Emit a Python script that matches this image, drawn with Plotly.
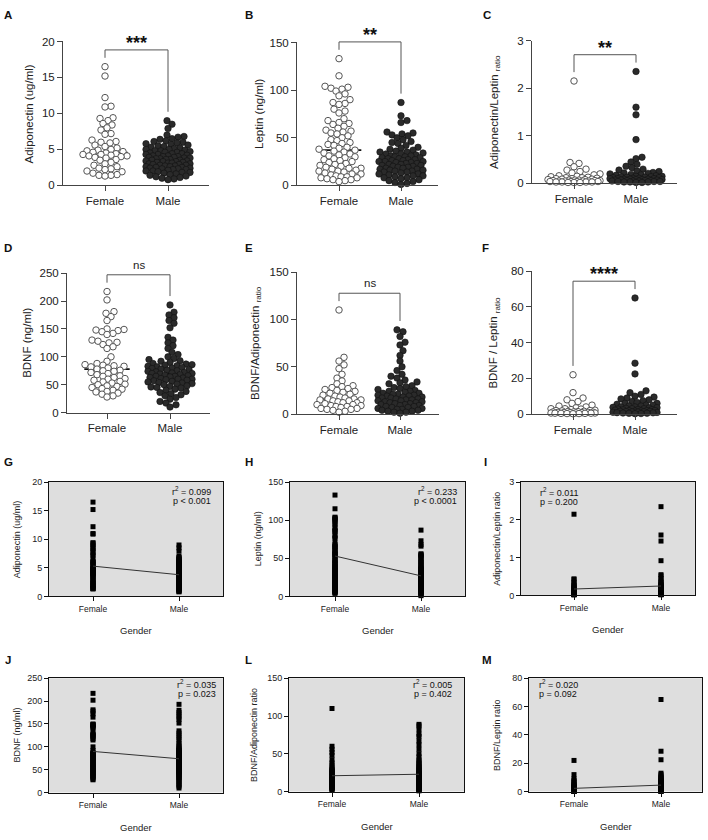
import math
import statistics
import plotly.graph_objects as go

W, H = 708, 840
FONT = "Arial, Liberation Sans, sans-serif"

groups = ["Female", "Male"]

# values (approximate)
adipo_f = [16.5, 15.2, 12.2, 11.0, 10.9, 9.4, 9.3, 9.0, 8.6, 8.4, 8.0, 7.7, 7.2, 7.1, 6.3, 6.1,
           6.0, 5.9, 5.6, 5.4, 5.2, 5.0, 4.9, 4.8, 4.7, 4.6, 4.5, 4.4, 4.3, 4.3, 4.2, 4.1, 4.1,
           4.0, 3.9, 3.8, 3.6, 3.5, 3.2, 3.0, 2.8, 2.6, 2.4, 2.3, 2.2, 2.0, 1.9, 1.7, 1.5, 1.4,
           1.4, 1.3]
adipo_m = [9.0, 8.5, 7.9, 7.0, 6.8, 6.7, 6.5, 6.4, 6.2, 6.1, 6.0, 5.9, 5.8, 5.7, 5.6, 5.5, 5.4,
           5.3, 5.2, 5.1, 5.0, 5.0, 4.9, 4.8, 4.8, 4.7, 4.6, 4.6, 4.5, 4.4, 4.4, 4.3, 4.3, 4.2,
           4.1, 4.1, 4.0, 4.0, 3.9, 3.9, 3.8, 3.8, 3.7, 3.7, 3.6, 3.6, 3.5, 3.5, 3.4, 3.4, 3.3,
           3.3, 3.2, 3.2, 3.1, 3.1, 3.0, 3.0, 2.9, 2.9, 2.8, 2.8, 2.7, 2.7, 2.6, 2.6, 2.5, 2.5,
           2.4, 2.4, 2.3, 2.3, 2.2, 2.2, 2.1, 2.0, 2.0, 1.9, 1.8, 1.8, 1.7, 1.6, 1.5, 1.4, 1.3,
           1.2, 1.1, 1.0, 0.9, 0.8]

leptin_f = [133, 115, 104, 103, 102, 101, 99, 96, 94, 90, 87, 86, 85, 80, 78, 76, 70, 68, 66,
            65, 64, 62, 60, 58, 57, 56, 55, 54, 52, 50, 48, 47, 45, 44, 43, 42, 40, 39, 38, 37,
            36, 35, 34, 33, 32, 31, 30, 29, 28, 27, 26, 25, 24, 23, 22, 21, 20, 19, 18, 18, 17,
            16, 15, 15, 14, 13, 12, 12, 11, 10, 9, 9, 8, 8, 7, 6, 6, 5, 4]
leptin_m = [87, 73, 68, 66, 56, 55, 54, 53, 52, 50, 48, 46, 45, 44, 42, 40, 39, 38, 37, 36, 35,
            35, 34, 33, 33, 32, 31, 31, 30, 30, 29, 29, 28, 28, 27, 27, 26, 26, 25, 25, 25, 24,
            24, 23, 23, 22, 22, 21, 21, 20, 20, 19, 19, 18, 18, 17, 17, 16, 16, 15, 15, 14, 14,
            13, 12, 12, 11, 10, 10, 9, 8, 8, 7, 6, 5, 4, 3, 2, 1]

al_ratio_f = [2.15, 0.44, 0.42, 0.35, 0.30, 0.28, 0.25, 0.22, 0.20, 0.18, 0.16, 0.15, 0.14, 0.13,
              0.12, 0.12, 0.11, 0.10, 0.10, 0.09, 0.09, 0.08, 0.08, 0.07, 0.07, 0.07, 0.06, 0.06,
              0.06, 0.05, 0.05, 0.05, 0.05, 0.04, 0.04, 0.04, 0.04, 0.03, 0.03, 0.03, 0.03, 0.02,
              0.02, 0.02]
al_ratio_m = [2.35, 1.60, 1.44, 0.92, 0.55, 0.52, 0.45, 0.40, 0.36, 0.33, 0.30, 0.28, 0.26, 0.25,
              0.23, 0.22, 0.21, 0.20, 0.19, 0.18, 0.17, 0.16, 0.15, 0.15, 0.14, 0.14, 0.13, 0.13,
              0.12, 0.12, 0.11, 0.11, 0.10, 0.10, 0.10, 0.09, 0.09, 0.09, 0.08, 0.08, 0.08, 0.07,
              0.07, 0.07, 0.06, 0.06, 0.06, 0.05, 0.05, 0.05, 0.04, 0.04, 0.04, 0.03, 0.03, 0.03,
              0.02, 0.02]

bdnf_f = [217, 202, 181, 178, 172, 165, 150, 149, 148, 147, 145, 142, 140, 130, 128, 126, 125,
          122, 118, 115, 100, 92, 88, 86, 85, 84, 83, 82, 80, 78, 76, 75, 74, 72, 70, 68, 66, 65,
          63, 61, 60, 58, 56, 55, 53, 51, 50, 48, 47, 45, 43, 42, 40, 38, 37, 35, 33, 30, 28]
bdnf_m = [193, 180, 175, 170, 165, 160, 152, 135, 130, 125, 120, 115, 108, 104, 100, 97, 95, 93,
          92, 90, 88, 87, 86, 85, 84, 83, 82, 81, 80, 79, 78, 77, 76, 75, 74, 73, 72, 71, 70, 70,
          69, 68, 67, 66, 65, 65, 64, 63, 62, 61, 60, 60, 59, 58, 57, 56, 55, 54, 53, 52, 51, 50,
          48, 47, 46, 45, 44, 42, 40, 38, 36, 34, 32, 30, 27, 24, 20, 17, 14, 10]

ba_ratio_f = [110, 60, 56, 52, 48, 42, 38, 35, 32, 30, 29, 28, 27, 26, 25, 24, 23, 22, 21, 20, 19,
              18, 17, 16, 16, 15, 15, 14, 14, 13, 12, 12, 11, 10, 10, 9, 9, 8, 8, 7, 6, 6, 5, 5,
              4, 3, 2]
ba_ratio_m = [89, 87, 82, 76, 73, 67, 62, 56, 50, 46, 42, 40, 38, 36, 34, 33, 32, 30, 29, 28, 27,
              26, 25, 24, 24, 23, 22, 22, 21, 21, 20, 20, 19, 19, 18, 18, 17, 17, 16, 16, 15, 15,
              14, 14, 13, 13, 12, 12, 11, 11, 10, 10, 9, 9, 8, 8, 7, 7, 6, 6, 5, 5, 4, 4, 3, 3, 2,
              2, 1]

bl_ratio_f = [22, 12, 9, 8, 7, 6, 5, 4.5, 4, 3.5, 3, 3, 2.8, 2.5, 2.2, 2, 2, 1.8, 1.6, 1.5, 1.4,
              1.3, 1.2, 1.1, 1.0, 1.0, 0.9, 0.8, 0.8, 0.7, 0.6, 0.6, 0.5, 0.5, 0.4, 0.4, 0.3, 0.3,
              0.2]
bl_ratio_m = [65, 28.5, 22.5, 13, 12, 11, 10, 9.5, 9, 8.5, 8, 7.5, 7, 6.5, 6, 6, 5.5, 5, 5, 4.5,
              4.5, 4, 4, 3.8, 3.6, 3.4, 3.2, 3.0, 3.0, 2.8, 2.6, 2.5, 2.4, 2.2, 2.0, 2.0, 1.9, 1.8,
              1.7, 1.6, 1.5, 1.4, 1.3, 1.2, 1.1, 1.0, 0.9, 0.8, 0.7, 0.6, 0.5, 0.4, 0.3, 0.2]

fit_adipo = [5.3, 3.8]
fit_leptin = [53, 27]
fit_al = [0.17, 0.25]
fit_bdnf = [90, 74]
fit_ba = [21, 23]
fit_bl = [2.3, 4.6]

stars = ["***", "**", "**", "ns", "ns", "****"]
r2_text = ["0.099", "0.233", "0.011", "0.035", "0.005", "0.020"]
p_text = ["p < 0.001", "p < 0.0001", "p = 0.200", "p = 0.023", "p = 0.402", "p = 0.092"]


def fx(px):
    return px / W


def fy(py):
    return 1 - py / H


def swarm(vals, ppx, ppy, d=5.6, maxw=22):
    order = sorted(range(len(vals)), key=lambda i: vals[i])
    cands = [0]
    for k in range(1, maxw + 1):
        cands += [k, -k]
    placed = []
    offs = [0.0] * len(vals)
    for i in order:
        y = vals[i] * ppy
        near = [(a, b) for a, b in placed if abs(b - y) < d]
        best, bestd = 0, -1.0
        for c in cands:
            md = min((math.hypot(c - a, y - b) for a, b in near), default=1e9)
            if md >= d:
                best = c
                break
            if md > bestd:
                bestd, best = md, c
        placed.append((best, y))
        offs[i] = best / ppx
    return offs


# box = (left, top, right, bottom) in px, cat = px of Female / Male
top_panels = [
    dict(tag="A", f=adipo_f, m=adipo_m, box=(63, 36, 209, 182), cat=(105, 168), yr=20, dt=5,
         title="Adiponectin (ug/ml)", tx=29, lab=(8, 9)),
    dict(tag="B", f=leptin_f, m=leptin_m, box=(297, 37, 438, 182), cat=(339, 401), yr=150, dt=50,
         title="Leptin (ng/ml)", tx=259, lab=(249, 9)),
    dict(tag="C", f=al_ratio_f, m=al_ratio_m, box=(532, 35, 677, 180), cat=(574, 636), yr=3, dt=1,
         title="Adiponectin/Leptin <sub>ratio</sub>", tx=495, lab=(487, 9), maxw=26),
    dict(tag="D", f=bdnf_f, m=bdnf_m, box=(67, 271, 210, 412.5), cat=(107, 170), yr=250, dt=50,
         title="BDNF (ng/ml)", tx=27, lab=(8, 246)),
    dict(tag="E", f=ba_ratio_f, m=ba_ratio_m, box=(297, 270, 439, 414), cat=(339, 400), yr=150, dt=50,
         title="BDNF/Adiponectin <sub>ratio</sub>", tx=256, lab=(249, 246)),
    dict(tag="F", f=bl_ratio_f, m=bl_ratio_m, box=(532, 269, 677, 414), cat=(573, 635), yr=80, dt=20,
         title="BDNF / Leptin <sub>ratio</sub>", tx=494, lab=(485, 246)),
]

bottom_panels = [
    dict(tag="G", f=adipo_f, m=adipo_m, fit=fit_adipo, box=(49, 483, 223, 599), cat=(93, 179), yr=20, dt=5,
         title="Adiponectin (ug/ml)", tx=17, lab=(8, 463), st=(213, "right"), sty=492),
    dict(tag="H", f=leptin_f, m=leptin_m, fit=fit_leptin, box=(290, 483, 465, 599), cat=(335, 421), yr=150, dt=50,
         title="Leptin (ng/ml)", tx=258, lab=(249, 463), st=(459, "right"), sty=492),
    dict(tag="I", f=al_ratio_f, m=al_ratio_m, fit=fit_al, box=(521, 483, 695, 598), cat=(574, 661), yr=3, dt=1,
         title="Adiponectin/Leptin ratio", tx=497, lab=(486, 463), st=(538, "left"), sty=493),
    dict(tag="J", f=bdnf_f, m=bdnf_m, fit=fit_bdnf, box=(49, 682, 223, 798), cat=(93, 179), yr=250, dt=50,
         title="BDNF (ng/ml)", tx=17, lab=(8, 663), st=(218, "right"), sty=688),
    dict(tag="L", f=ba_ratio_f, m=ba_ratio_m, fit=fit_ba, box=(289, 682, 464, 797), cat=(332, 419), yr=150, dt=50,
         title="BDNF/Adiponectin ratio", tx=254, lab=(248, 663), st=(454, "right"), sty=688),
    dict(tag="M", f=bl_ratio_f, m=bl_ratio_m, fit=fit_bl, box=(529, 682, 702, 797), cat=(574, 661), yr=80, dt=20,
         title="BDNF/Leptin ratio", tx=497, lab=(487, 663), st=(537, "left"), sty=688),
]

fig = go.Figure()
layout = dict(width=W, height=H, margin=dict(l=0, r=0, t=0, b=0), plot_bgcolor="white",
              paper_bgcolor="white", showlegend=False, font=dict(family=FONT, color="#222"))
annotations = []
shapes = []

k = 0
for i, p in enumerate(top_panels):
    k += 1
    xa, ya = ("x", "y") if k == 1 else (f"x{k}", f"y{k}")
    l, t, r, b = p["box"]
    c0, c1 = p["cat"]
    sp = c1 - c0
    xr = [(l - c0) / sp, (r - c0) / sp]
    ppy = (b - t) / p["yr"]
    axstyle = dict(showline=True, linecolor="#444", linewidth=1, ticks="outside", ticklen=5,
                   tickcolor="#444", showgrid=False, zeroline=False,
                   tickfont=dict(size=11.5, color="#222", family=FONT))
    layout["xaxis" if k == 1 else f"xaxis{k}"] = dict(
        domain=[fx(l), fx(r)], range=xr, anchor=ya, tickvals=[0, 1], ticktext=groups, **axstyle)
    layout["yaxis" if k == 1 else f"yaxis{k}"] = dict(
        domain=[fy(b), fy(t)], range=[0, p["yr"]], anchor=xa, dtick=p["dt"], **axstyle)

    mw = p.get("maxw", 22)
    for g, vals in enumerate([p["f"], p["m"]]):
        med = statistics.median(vals)
        fig.add_trace(go.Scatter(x=[g - 0.36, g + 0.36], y=[med, med], mode="lines", xaxis=xa, yaxis=ya,
                                 line=dict(color="#111", width=1.6), hoverinfo="skip"))
        offs = swarm(vals, sp, ppy, maxw=mw)
        if g == 0:
            mk = dict(size=6.5, color="white", line=dict(color="#555", width=1))
        else:
            mk = dict(size=6.5, color="#2a2a2a", line=dict(color="#111", width=0.6))
        fig.add_trace(go.Scatter(x=[g + o for o in offs], y=vals, mode="markers", xaxis=xa, yaxis=ya,
                                 marker=mk, cliponaxis=False))

    # significance bracket
    lf = b - (max(p["f"]) * ppy + 9)
    rm = b - (max(p["m"]) * ppy + 9)
    top = min(lf, rm) - 8
    shapes.append(dict(type="path", xref="paper", yref="paper",
                       path=f"M {fx(c0)},{fy(lf)} L {fx(c0)},{fy(top)} L {fx(c1)},{fy(top)} L {fx(c1)},{fy(rm)}",
                       line=dict(color="#555", width=1)))
    s = stars[i]
    if s == "ns":
        annotations.append(dict(x=fx((c0 + c1) / 2), y=fy(top - 10), xref="paper", yref="paper", text=s,
                                showarrow=False, font=dict(size=11.5, color="#222", family=FONT),
                                xanchor="center", yanchor="middle"))
    else:
        annotations.append(dict(x=fx((c0 + c1) / 2), y=fy(top - 10), xref="paper", yref="paper",
                                text=f"<b>{s}</b>", showarrow=False,
                                font=dict(size=18, color="#111", family=FONT),
                                xanchor="center", yanchor="middle", yshift=-3))
    annotations.append(dict(x=fx(p["tx"]), y=fy((t + b) / 2), xref="paper", yref="paper", text=p["title"],
                            textangle=-90, showarrow=False, font=dict(size=11.5, color="#222", family=FONT),
                            xanchor="center", yanchor="middle"))
    annotations.append(dict(x=fx(p["lab"][0]), y=fy(p["lab"][1]), xref="paper", yref="paper",
                            text=f"<b>{p['tag']}</b>", showarrow=False,
                            font=dict(size=11.5, color="#111", family=FONT), xanchor="center", yanchor="middle"))

for i, p in enumerate(bottom_panels):
    k += 1
    xa, ya = f"x{k}", f"y{k}"
    l, t, r, b = p["box"]
    c0, c1 = p["cat"]
    sp = c1 - c0
    xr = [(l - c0) / sp, (r - c0) / sp]
    axstyle = dict(showline=True, mirror=True, linecolor="#111", linewidth=1, ticks="outside", ticklen=4,
                   tickcolor="#111", showgrid=False, zeroline=False)
    layout[f"xaxis{k}"] = dict(domain=[fx(l), fx(r)], range=xr, anchor=ya, tickvals=[0, 1], ticktext=groups,
                               tickfont=dict(size=8.5, color="#222", family=FONT), **axstyle)
    layout[f"yaxis{k}"] = dict(domain=[fy(b), fy(t)], range=[0, p["yr"]], anchor=xa, dtick=p["dt"],
                               tickfont=dict(size=9, color="#222", family=FONT), **axstyle)
    shapes.append(dict(type="rect", xref=f"{xa} domain", yref=f"{ya} domain", x0=0, x1=1, y0=0, y1=1,
                       fillcolor="#dedede", line=dict(width=0), layer="below"))
    for g, vals in enumerate([p["f"], p["m"]]):
        fig.add_trace(go.Scatter(x=[g] * len(vals), y=vals, mode="markers", xaxis=xa, yaxis=ya,
                                 marker=dict(symbol="square", size=5, color="black"), cliponaxis=False))
    fig.add_trace(go.Scatter(x=[0, 1], y=p["fit"], mode="lines", xaxis=xa, yaxis=ya,
                             line=dict(color="#333", width=1)))

    sx, sa = p["st"]
    annotations.append(dict(x=fx(sx), y=fy(p["sty"]), xref="paper", yref="paper",
                            text=f"r<sup>2</sup> = {r2_text[i]}", showarrow=False,
                            font=dict(size=9, color="#111", family=FONT), xanchor=sa, yanchor="middle"))
    annotations.append(dict(x=fx(sx), y=fy(p["sty"] + 10), xref="paper", yref="paper",
                            text=p_text[i], showarrow=False,
                            font=dict(size=9, color="#111", family=FONT), xanchor=sa, yanchor="middle"))
    annotations.append(dict(x=fx(p["tx"]), y=fy((t + b) / 2), xref="paper", yref="paper", text=p["title"],
                            textangle=-90, showarrow=False, font=dict(size=9, color="#222", family=FONT),
                            xanchor="center", yanchor="middle"))
    annotations.append(dict(x=fx((l + r) / 2), y=fy(b + 35), xref="paper", yref="paper", text="Gender",
                            showarrow=False, font=dict(size=9.5, color="#222", family=FONT),
                            xanchor="center", yanchor="middle"))
    annotations.append(dict(x=fx(p["lab"][0]), y=fy(p["lab"][1]), xref="paper", yref="paper",
                            text=f"<b>{p['tag']}</b>", showarrow=False,
                            font=dict(size=11.5, color="#111", family=FONT), xanchor="center", yanchor="middle"))

layout["annotations"] = annotations
layout["shapes"] = shapes
fig.update_layout(**layout)
# the page body has a default 8px margin; drop it so the figure sits at the window origin
fig.write_html("out.html", config={"displayModeBar": False},
               post_script="document.body.style.margin='0';")
